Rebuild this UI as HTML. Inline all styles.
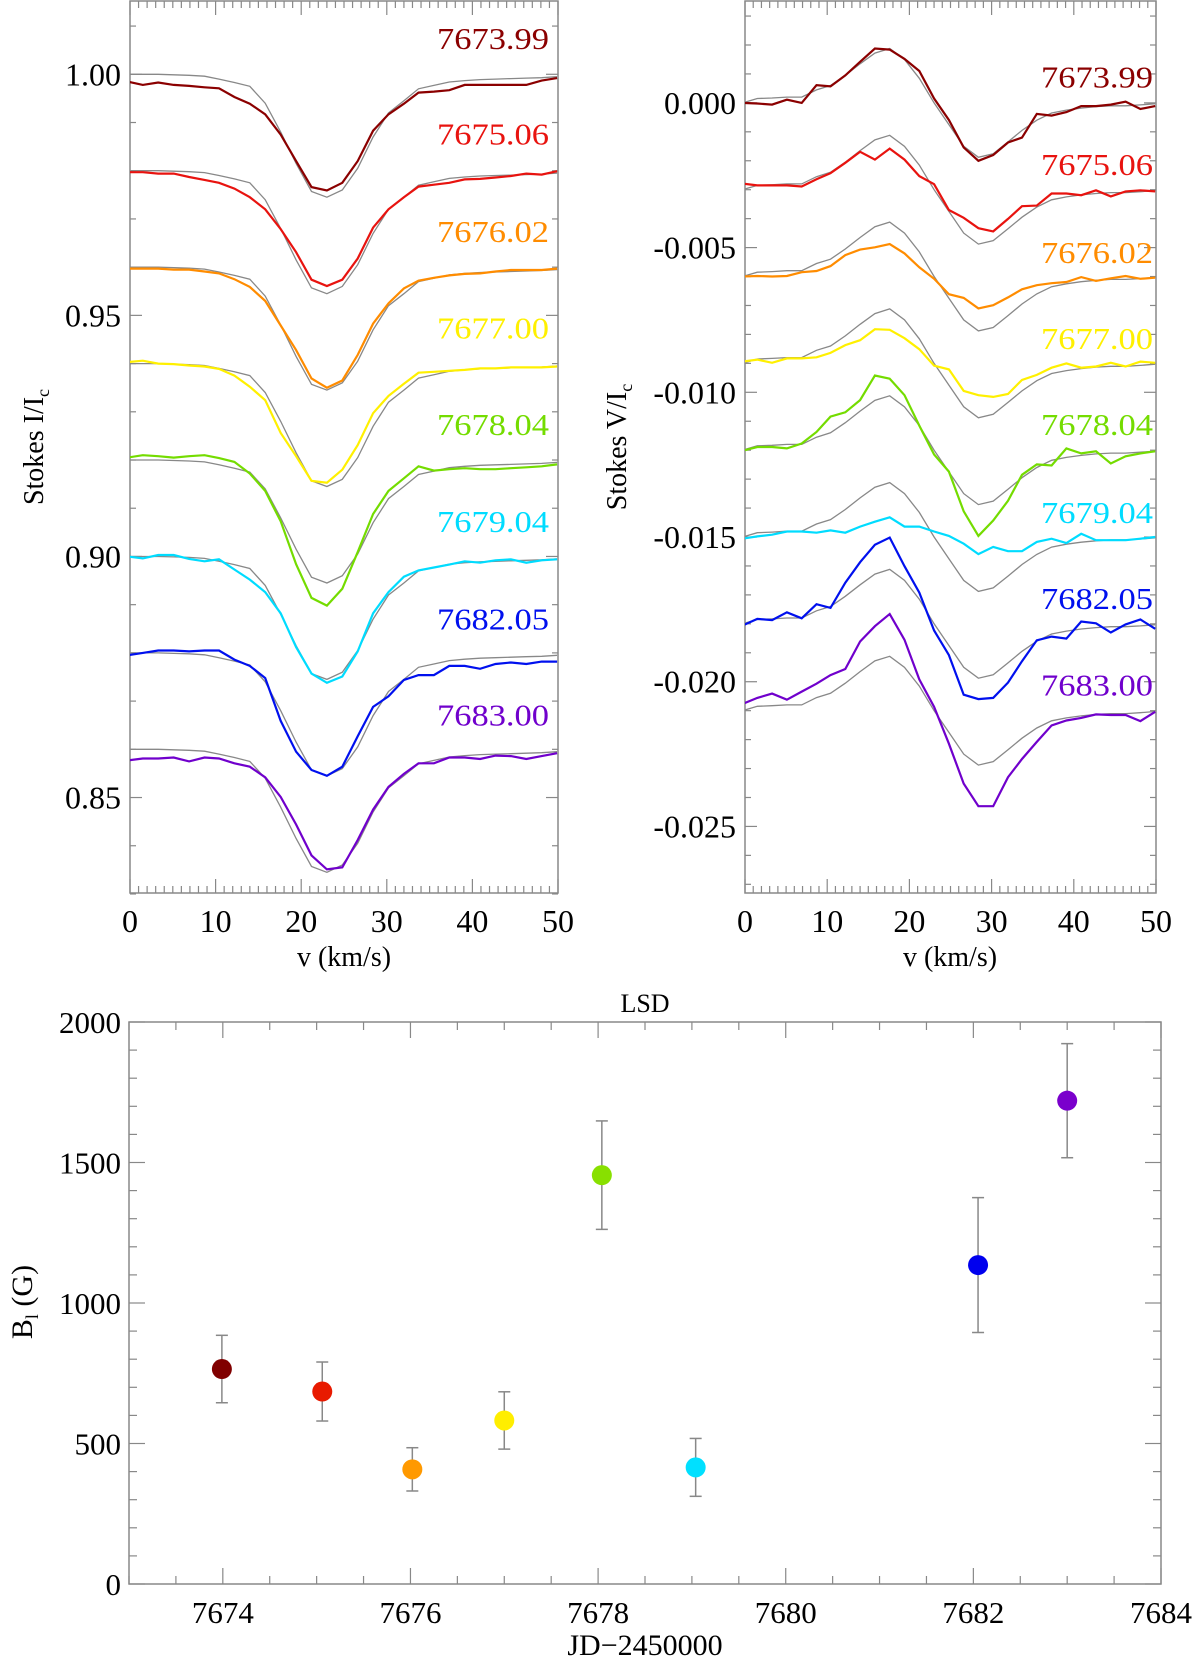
<!DOCTYPE html>
<html><head><meta charset="utf-8"><style>
html,body{margin:0;padding:0;background:#fff;}
svg{display:block;font-family:"Liberation Serif",serif;}
</style></head><body>
<svg id="fig" width="1200" height="1661" viewBox="0 0 1200 1661"></svg>
<script>
// ---------- data ----------
const velocities = [-0.3,1.5,3.3,5.1,6.9,8.7,10.4,12.2,14.0,15.8,17.6,19.4,21.2,23.0,24.8,26.6,28.4,30.2,32.0,33.7,35.5,37.3,39.1,40.9,42.7,44.5,46.3,48.1,49.9];
const epochLabels = ["7673.99","7675.06","7676.02","7677.00","7678.04","7679.04","7682.05","7683.00"];
const epochColors = ["#8b0000","#e8130f","#ff8c00","#fff000","#74dc00","#00dcff","#0010ee","#7000cc"];
const iContinuum = [1.00,0.98,0.96,0.94,0.92,0.90,0.88,0.86];
const vBaseline = [0.000,-0.003,-0.006,-0.009,-0.012,-0.015,-0.018,-0.021];
// model Stokes I depth (1e-3 below continuum)
const modelIDepth = [0,0,0,0.1,0.2,0.4,1.0,1.7,2.5,6,12,18.5,24.3,25.5,24,19.5,13,8,5.5,3,2.3,1.6,1.3,1.1,1.0,0.9,0.8,0.7,0.5];
// observed Stokes I depth per epoch (1e-3)
const obsIDepth1 = [1.5,2.2,1.7,2.2,2.4,2.7,2.9,4.7,6.1,8.3,12.5,18.0,23.4,24.1,22.5,18.0,11.7,8.3,6.1,3.8,3.6,3.3,2.2,2.2,2.2,2.2,2.2,1.3,0.8];
const obsIDepth2 = [0.3,0.3,0.6,0.6,1.3,1.9,2.5,3.7,5.5,8.0,12.1,16.9,22.6,23.9,22.6,18.2,11.8,8.0,5.5,3.3,2.9,2.5,1.8,1.7,1.4,1.1,0.6,0.8,0.1];
const obsIDepth3 = [0.3,0.3,0.3,0.5,0.5,0.9,1.3,2.5,4.1,7.0,12.1,17.2,23.1,25.0,23.5,18.2,11.7,7.5,4.4,2.8,2.2,1.7,1.4,1.3,0.9,0.6,0.6,0.6,0.3];
const obsIDepth4 = [-0.3,-0.6,0,0.1,0.4,0.6,1.1,2.5,4.8,7.6,14.4,19.2,24.3,24.7,22.0,16.9,10.3,6.7,4.2,1.9,1.7,1.5,1.3,1.0,1.0,0.8,0.8,0.8,0.6];
const obsIDepth5 = [-0.5,-1.0,-0.8,-0.5,-0.8,-1.0,-0.4,0.4,2.8,6.4,12.7,21.6,28.6,30.2,26.7,19.1,11.2,6.4,3.8,1.3,2.2,1.9,1.7,1.9,1.9,1.7,1.5,1.3,0.9];
const obsIDepth6 = [0,0.4,-0.3,-0.3,0.5,1.0,0.6,2.7,4.8,7.4,11.8,18.8,24.3,26.2,24.9,19.7,11.8,7.4,4.2,2.9,2.3,1.7,1.0,1.3,0.8,0.6,1.3,0.8,0.6];
const obsIDepth7 = [0.5,0,-0.5,-0.5,-0.3,-0.5,-0.5,1.4,2.7,5.2,14.1,20.5,24.3,25.5,23.6,17.3,11.2,9.0,5.6,4.6,4.6,2.7,2.7,3.3,2.3,2.0,2.3,1.8,1.8];
const obsIDepth8 = [2.3,1.9,1.9,1.7,2.5,1.7,1.9,2.9,3.6,5.8,9.9,15.6,22.0,24.9,24.5,18.8,12.5,7.8,5.1,2.9,2.9,1.7,1.7,2.0,1.3,1.4,2.0,1.4,0.8];
// model Stokes V (1e-3 relative to baseline)
const modelV = [0.0,0.15,0.17,0.2,0.2,0.45,0.6,0.95,1.35,1.72,1.88,1.5,0.85,0.0,-0.75,-1.5,-1.88,-1.76,-1.35,-0.95,-0.6,-0.35,-0.25,-0.18,-0.13,-0.1,-0.1,-0.07,-0.03];
const obsV1 = [0,-0.02,-0.06,0.11,0,0.61,0.57,0.95,1.42,1.88,1.84,1.52,1.1,0.15,-0.59,-1.54,-2.0,-1.8,-1.37,-1.2,-0.38,-0.44,-0.32,-0.11,-0.11,-0.06,0.04,-0.21,-0.11];
const obsV2 = [0.21,0.15,0.15,0.15,0.11,0.36,0.57,0.93,1.31,1.04,1.42,1.04,0.47,0.19,-0.7,-0.97,-1.33,-1.44,-1.01,-0.57,-0.55,-0.13,-0.13,-0.19,-0.02,-0.23,-0.06,-0.02,-0.06];
const obsV3 = [0,0.02,0,0.02,0.15,0.19,0.36,0.74,0.93,1.01,1.12,0.8,0.32,-0.08,-0.61,-0.74,-1.1,-0.99,-0.72,-0.44,-0.3,-0.23,-0.19,-0.02,-0.15,-0.06,0.02,-0.08,-0.04];
const obsV4 = [0.06,0.13,0.02,0.17,0.17,0.21,0.36,0.63,0.8,1.18,1.16,0.87,0.49,-0.08,-0.21,-0.95,-1.1,-1.16,-1.06,-0.57,-0.4,-0.15,0,-0.15,-0.11,0.02,-0.11,0.06,0.02];
const obsV5 = [-0.02,0.11,0.11,0.06,0.23,0.63,1.16,1.31,1.73,2.58,2.47,1.9,0.85,-0.15,-0.74,-2.11,-2.96,-2.43,-1.75,-0.85,-0.49,-0.53,0.06,-0.11,-0.04,-0.46,-0.21,-0.11,-0.04];
const obsV6 = [-0.06,0.02,0.08,0.19,0.19,0.15,0.23,0.15,0.36,0.53,0.68,0.36,0.36,0.19,0.04,-0.23,-0.59,-0.34,-0.49,-0.49,-0.17,-0.06,-0.21,0.11,-0.11,-0.11,-0.11,-0.06,0];
const obsV7 = [-0.06,0.17,0.13,0.4,0.19,0.68,0.55,1.42,2.13,2.73,2.98,1.99,1.08,-0.23,-1.08,-2.45,-2.6,-2.56,-2.03,-1.29,-0.57,-0.44,-0.51,0.08,0.02,-0.3,-0.02,0.15,-0.17];
const obsV8 = [0.23,0.44,0.59,0.38,0.66,0.93,1.23,1.44,2.39,2.92,3.34,2.45,1.08,0.13,-1.14,-2.52,-3.3,-3.3,-2.3,-1.67,-1.08,-0.51,-0.34,-0.25,-0.13,-0.15,-0.15,-0.36,-0.04];
// longitudinal field
const jdValues = [7673.99,7675.06,7676.02,7677.00,7678.04,7679.04,7682.05,7683.00];
const bField = [765,685,408,582,1455,415,1135,1720];
const bError = [120,105,77,102,193,103,240,203];
const markerColors = ["#800000","#e81a00","#ff9900","#ffee00","#88e000","#00e0ff","#0000ee","#7a00cc"];
const iTicks = ["0.85","0.90","0.95","1.00"];
const vTicks = ["0.000","-0.005","-0.010","-0.015","-0.020","-0.025"];
const velTicks = [0,10,20,30,40,50];
const bTicks = [0,500,1000,1500,2000];
const jdTicks = [7674,7676,7678,7680,7682,7684];

const obsI = [obsIDepth1,obsIDepth2,obsIDepth3,obsIDepth4,obsIDepth5,obsIDepth6,obsIDepth7,obsIDepth8];
const obsV = [obsV1,obsV2,obsV3,obsV4,obsV5,obsV6,obsV7,obsV8];

const NS="http://www.w3.org/2000/svg";
const svg=document.getElementById('fig');
function el(tag,attrs,parent){const e=document.createElementNS(NS,tag);for(const k in attrs)e.setAttribute(k,attrs[k]);(parent||svg).appendChild(e);return e;}
const AX="#888";

// ---- panel geometry ----
const P1={x0:130,x1:558,y0:1,y1:893,vmin:0.8302,vmax:1.0152};
const P2={x0:745,x1:1156,y0:1,y1:893,vmin:-0.0273,vmax:0.00352};
const P3={x0:129,x1:1161,y0:1022,y1:1584,vmin:0,vmax:2000,jmin:7673,jmax:7684};
const sx=(p,v)=>p.x0+(v-0)/50*(p.x1-p.x0);
const sy=(p,v)=>p.y1-(v-p.vmin)/(p.vmax-p.vmin)*(p.y1-p.y0);
const bx=v=>P3.x0+(v-P3.jmin)/(P3.jmax-P3.jmin)*(P3.x1-P3.x0);
const by=v=>P3.y1-(v-P3.vmin)/(P3.vmax-P3.vmin)*(P3.y1-P3.y0);

const defs=el('defs',{});
[[P1,'c1'],[P2,'c2']].forEach(([p,id])=>{const c=el('clipPath',{id:id},defs);el('rect',{x:p.x0,y:p.y0,width:p.x1-p.x0,height:p.y1-p.y0},c);});

function frame(p,name){
  const r=el('rect',{x:p.x0,y:p.y0,width:p.x1-p.x0,height:p.y1-p.y0,fill:'none',stroke:AX,'stroke-width':1.5});
  
  
}
function tick(x1,y1,x2,y2){el('line',{x1,y1,x2,y2,stroke:AX,'stroke-width':1.2});}
function text(x,y,s,attrs,name){const t=el('text',Object.assign({x,y,'font-size':32,fill:'#000'},attrs));t.textContent=s;
  
  
  return t;}

// ---------- panel 1 ----------
frame(P1,'stokes-i-plot');
for(let v=0;v<=50;v++){const x=sx(P1,v);const L=v%10===0?14:7;tick(x,P1.y1,x,P1.y1-L);tick(x,P1.y0,x,P1.y0+L);}
for(let k=83;k<=101;k++){const val=k/100;const y=sy(P1,val);const L=k%5===0?12:6;tick(P1.x0,y,P1.x0+L,y);tick(P1.x1,y,P1.x1-L,y);}
iTicks.forEach(s=>text(121,sy(P1,parseFloat(s))+11,s,{'text-anchor':'end'},'y-tick-label'));
velTicks.forEach(v=>text(sx(P1,v),932,String(v),{'text-anchor':'middle'},'x-tick-label'));
text(344,966,'v (km/s)',{'text-anchor':'middle','font-size':28},'x-axis-title');
{const t=el('text',{transform:'translate(43,447) rotate(-90)','text-anchor':'middle','font-size':28});
 
 t.innerHTML='Stokes I/I<tspan font-size="18" dy="6">c</tspan>';}
const g1=el('g',{'clip-path':'url(#c1)'});


const iLabelY=[38,133.5,231,327.6,424,521,618.5,714.6];
for(let j=0;j<8;j++){
  const mp=velocities.map((v,k)=>sx(P1,v).toFixed(1)+','+sy(P1,iContinuum[j]-modelIDepth[k]/1000).toFixed(1)).join(' ');
  const op=velocities.map((v,k)=>sx(P1,v).toFixed(1)+','+sy(P1,iContinuum[j]-obsI[j][k]/1000).toFixed(1)).join(' ');
  const m=el('polyline',{points:mp,fill:'none',stroke:'#888','stroke-width':1.3},g1);
  
  
  const o=el('polyline',{points:op,fill:'none',stroke:epochColors[j],'stroke-width':2.2},g1);
  
  
  text(437,iLabelY[j]+11,epochLabels[j],{fill:epochColors[j],'font-size':31,textLength:112,lengthAdjust:'spacingAndGlyphs'},'label-i-'+epochLabels[j]);
}

// ---------- panel 2 ----------
frame(P2,'stokes-v-plot');
for(let v=0;v<=50;v++){const x=sx(P2,v);const L=v%10===0?14:7;tick(x,P2.y1,x,P2.y1-L);tick(x,P2.y0,x,P2.y0+L);}
for(let k=-27;k<=3;k++){const val=k/1000;const y=sy(P2,val);const L=k%5===0?12:6;tick(P2.x0,y,P2.x0+L,y);tick(P2.x1,y,P2.x1-L,y);}
vTicks.forEach(s=>text(736,sy(P2,parseFloat(s))+11,s,{'text-anchor':'end'},'y-tick-label'));
velTicks.forEach(v=>text(sx(P2,v),932,String(v),{'text-anchor':'middle'},'x-tick-label'));
text(950,966,'v (km/s)',{'text-anchor':'middle','font-size':28},'x-axis-title');
{const t=el('text',{transform:'translate(626,447) rotate(-90)','text-anchor':'middle','font-size':28});
 
 t.innerHTML='Stokes V/I<tspan font-size="18" dy="6">c</tspan>';}
const g2=el('g',{'clip-path':'url(#c2)'});


const vLabelY=[76.5,164,252,338,424,512,598,684.6];
for(let j=0;j<8;j++){
  const mp=velocities.map((v,k)=>sx(P2,v).toFixed(1)+','+sy(P2,vBaseline[j]+modelV[k]/1000).toFixed(1)).join(' ');
  const op=velocities.map((v,k)=>sx(P2,v).toFixed(1)+','+sy(P2,vBaseline[j]+obsV[j][k]/1000).toFixed(1)).join(' ');
  const m=el('polyline',{points:mp,fill:'none',stroke:'#888','stroke-width':1.3},g2);
  
  
  const o=el('polyline',{points:op,fill:'none',stroke:epochColors[j],'stroke-width':2.2},g2);
  
  
  text(1041,vLabelY[j]+11,epochLabels[j],{fill:epochColors[j],'font-size':31,textLength:112,lengthAdjust:'spacingAndGlyphs'},'label-v-'+epochLabels[j]);
}

// ---------- panel 3 ----------
frame(P3,'bfield-plot');
for(let d=7673;d<=7684;d+=0.5){const x=bx(d);const L=(d%2===0)?16:8;tick(x,P3.y1,x,P3.y1-L);tick(x,P3.y0,x,P3.y0+L);}
for(let b=0;b<=2000;b+=100){const y=by(b);const L=b%500===0?16:8;tick(P3.x0,y,P3.x0+L,y);tick(P3.x1,y,P3.x1-L,y);}
bTicks.forEach(b=>text(121,by(b)+11,String(b),{'text-anchor':'end','font-size':31},'y-tick-label'));
jdTicks.forEach(d=>text(bx(d),1623,String(d),{'text-anchor':'middle','font-size':31},'x-tick-label'));
text(645,1655,'JD\u22122450000',{'text-anchor':'middle','font-size':30},'x-axis-title');
text(645,1012,'LSD',{'text-anchor':'middle','font-size':26},'plot-title');
{const t=el('text',{transform:'translate(32,1302) rotate(-90)','text-anchor':'middle','font-size':30});
 
 t.innerHTML='B<tspan font-size="18" dy="6">l</tspan><tspan dy="-6"> (G)</tspan>';}
for(let j=0;j<jdValues.length;j++){
  const x=bx(jdValues[j]);const yt=by(bField[j]+bError[j]);const yb=by(bField[j]-bError[j]);
  const g=el('g',{});
  
  
  el('line',{x1:x,y1:yt,x2:x,y2:yb,stroke:'#888','stroke-width':1.5},g);
  el('line',{x1:x-6,y1:yt,x2:x+6,y2:yt,stroke:'#888','stroke-width':1.5},g);
  el('line',{x1:x-6,y1:yb,x2:x+6,y2:yb,stroke:'#888','stroke-width':1.5},g);
  el('circle',{cx:x,cy:by(bField[j]),r:10,fill:markerColors[j]},g);
}
</script>
</body></html>
